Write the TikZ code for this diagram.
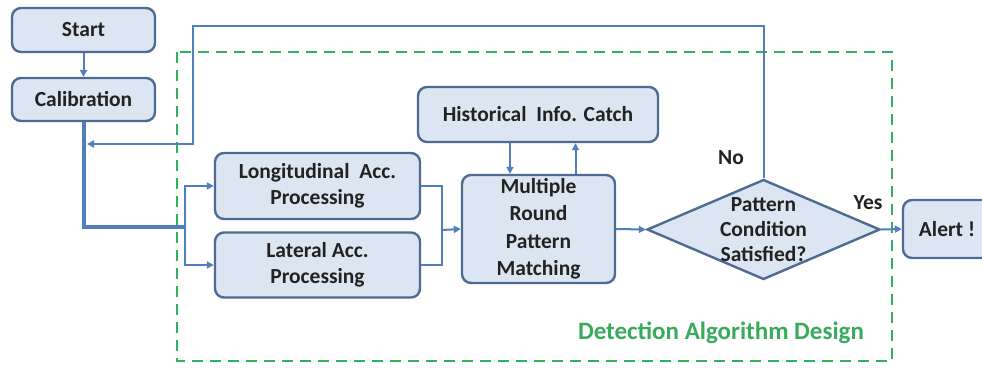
\documentclass[tikz,border=0pt]{standalone}
\usepackage{fontspec}
\setmainfont{Carlito}
\usetikzlibrary{shapes.geometric,arrows.meta}
\definecolor{boxfill}{HTML}{DCE6F2}
\definecolor{boxline}{HTML}{4F6B93}
\definecolor{flow}{HTML}{4F7FBE}
\definecolor{ink}{HTML}{222222}
\definecolor{zone}{HTML}{2DB35E}
\definecolor{zonetext}{HTML}{3AAA5C}

\begin{document}
\begin{tikzpicture}[x=1pt,y=-1pt,
  txt/.style={font=\fontsize{21.5}{26}\selectfont\bfseries, text=ink},
  proc/.style={txt, draw=boxline, line width=2.4pt, fill=boxfill,
    rounded corners=9pt, align=center, inner sep=0pt},
  decide/.style={diamond, draw=boxline, line width=2.4pt, fill=boxfill,
    inner sep=0pt, aspect=2.33},
  flowline/.style={draw=flow, line width=2pt},
  trunk/.style={draw=flow, line width=4pt},
  tip/.style={-{Triangle[length=7pt,width=7pt]}},
  zonebox/.style={draw=zone, line width=2.8pt, dash pattern=on 11pt off 7pt}]

\useasboundingbox (0,0) rectangle (982,367);
\fill[white] (0,0) rectangle (982,367);

% detection region
\draw[zonebox] (177,52) rectangle (892,361);
\node[font=\fontsize{25}{28}\selectfont\bfseries, text=zonetext] (zonelabel) at (721,333) {Detection Algorithm Design};

% process boxes
\node[proc, minimum width=143pt, minimum height=44pt] (start) at (83.5,30) {Start};
\node[proc, minimum width=143pt, minimum height=43pt] (calib) at (83.5,99.5) {Calibration};
\node[proc, minimum width=205pt, minimum height=66pt] (long) at (317.5,186) {Longitudinal\ \ Acc.\\Processing};
\node[proc, minimum width=205pt, minimum height=65pt] (lat) at (317.5,265) {Lateral Acc.\\Processing};
\node[proc, minimum width=153pt, minimum height=108pt,
  font=\fontsize{21.5}{27.5}\selectfont\bfseries] (multi) at (538.5,229) {Multiple\\Round\\Pattern\\Matching};
\node[proc, minimum width=240pt, minimum height=55pt] (hist) at (538,114.5) {Historical\ \ Info. Catch};
\node[decide, minimum width=233pt, minimum height=100pt] (cond) at (763.5,229.5) {};
\node[txt, align=center, font=\fontsize{21.5}{25}\selectfont\bfseries] (condtext) at (cond.center) {Pattern\\Condition\\Satisfied?};
\node[proc, minimum width=88pt, minimum height=58pt] (alert) at (947,229) {Alert !};

% branch points
\coordinate (split) at (185,227);
\coordinate (merge) at (442,230);
\coordinate (back) at (87,144);

% connectors
\draw[flowline, tip] (start) -- (calib);
\draw[trunk] (calib.south) |- (split);
\draw[flowline, tip] (split) |- (long.west);
\draw[flowline, tip] (split) |- (lat.west);
\draw[flowline] (long.east) -| (merge);
\draw[flowline] (lat.east) -| (merge);
\draw[flowline, tip] (merge) -- (multi.west);
\draw[flowline, tip] ([xshift=-28pt]hist.south) -- ([xshift=-28pt]hist.south |- multi.north);
\draw[flowline, tip] ([xshift=37pt]multi.north) -- ([xshift=37pt]multi.north |- hist.south);
\draw[flowline, tip] (multi.east) -- (cond.west);
\draw[flowline, tip] (cond.east) -- (alert.west);
\draw[flowline, tip] (cond.north) |- (193,26) |- (back);

% branch labels
\node[txt] (nolabel) at (731,158) {No};
\node[txt] (yeslabel) at (868,203) {Yes};
\end{tikzpicture}
\end{document}
